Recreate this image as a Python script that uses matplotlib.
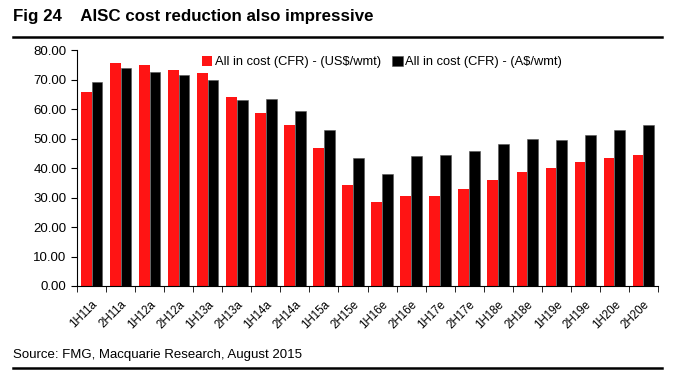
import numpy as np
import matplotlib
matplotlib.use("Agg")
import matplotlib.pyplot as plt

plt.rcParams['font.family'] = ['Liberation Sans', 'DejaVu Sans']

periods = ["1H11a", "2H11a", "1H12a", "2H12a", "1H13a", "2H13a", "1H14a", "2H14a",
           "1H15a", "2H15e", "1H16e", "2H16e", "1H17e", "2H17e", "1H18e", "2H18e",
           "1H19e", "2H19e", "1H20e", "2H20e"]
cost_usd = [65.6, 75.5, 75.0, 73.1, 72.2, 64.0, 58.5, 54.5, 46.9, 34.1,
            28.4, 30.4, 30.4, 32.9, 35.8, 38.8, 40.0, 42.0, 43.3, 44.5]
cost_aud = [69.3, 73.9, 72.5, 71.4, 69.7, 63.1, 63.5, 59.3, 52.8, 43.3,
            37.9, 44.1, 44.5, 45.8, 48.2, 49.8, 49.4, 51.2, 52.8, 54.5]
series_names = ["All in cost (CFR) - (US$/wmt)", "All in cost (CFR) - (A$/wmt)"]

fig = plt.figure(figsize=(6.75, 3.75), dpi=100)
ax = fig.add_axes([77/675, 1-286/375, 581/675, 236/375])

x = np.arange(len(periods))
w = 0.37
ax.bar(x - w/2, cost_usd, w, color="#ff1414", label=series_names[0])
ax.bar(x + w/2, cost_aud, w, color="#000000", edgecolor="#555555", linewidth=0.4,
       label=series_names[1])

ax.set_xlim(-0.5, len(periods) - 0.5)
ax.set_ylim(0, 80)
ax.set_yticks(np.arange(0, 81, 10))
ax.set_yticklabels([f"{v:.2f}" for v in np.arange(0, 81, 10)], fontsize=9.5)
ax.set_xticks(x)
ax.set_xticklabels(periods, rotation=45, ha="right", rotation_mode="anchor", fontsize=8.3)
ax.set_xticks(np.arange(-0.5, len(periods), 1), minor=True)
ax.tick_params(axis="x", which="major", length=0, pad=9)
ax.tick_params(axis="x", which="minor", length=4, direction="out")
ax.tick_params(axis="y", length=4, direction="out")
for s in ["top", "right"]:
    ax.spines[s].set_visible(False)

ax.legend(loc="upper center", bbox_to_anchor=(0.525, 1.025), ncol=2, frameon=False,
          fontsize=9.3, handlelength=0.8, handleheight=0.8, handletextpad=0.2,
          columnspacing=0.9)

fig.text(13/675, 1-17/375, "Fig 24    AISC cost reduction also impressive",
         fontsize=12.2, fontweight="bold", va="center")
fig.add_artist(plt.Line2D([13/675, 662/675], [1-37/375, 1-37/375], color="black", lw=1.8))
fig.text(13/675, 1-355/375, "Source: FMG, Macquarie Research, August 2015",
         fontsize=9.5, va="center")
fig.add_artist(plt.Line2D([13/675, 662/675], [1-368/375, 1-368/375], color="black", lw=1.8))

fig.savefig("out.png", dpi=100)
